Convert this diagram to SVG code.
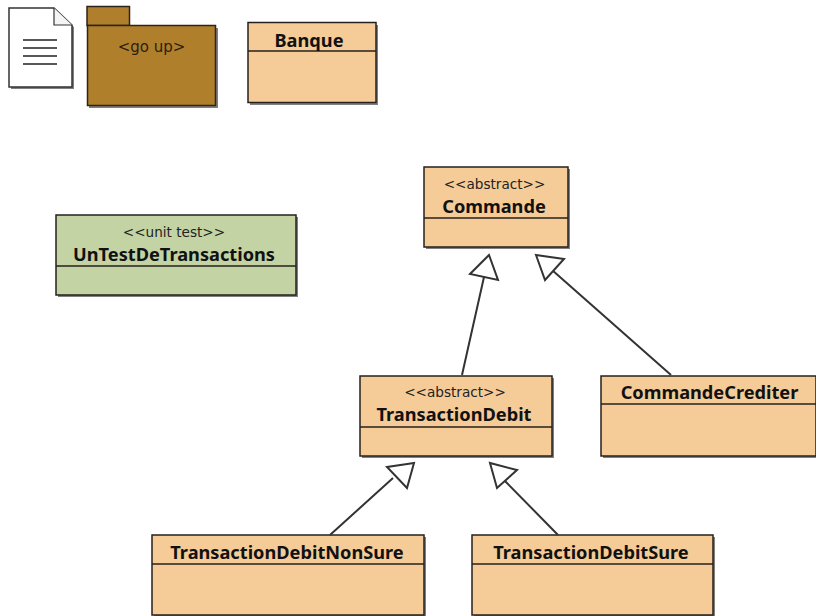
<svg xmlns="http://www.w3.org/2000/svg" width="816" height="616" viewBox="0 0 816 616">
<defs>
<style>
.s{fill:#4a4a4a;opacity:.7;stroke:none}
.c{fill:#f5cb98;stroke:#26201c;stroke-width:1.5}
.d{stroke:#26201c;stroke-width:1.5;fill:none}
.g{fill:#c4d3a3;stroke:#26201c;stroke-width:1.5}
.t{font-family:"Noto Sans","Liberation Sans",sans-serif;font-size:18.2px;font-weight:bold;fill:#111;text-anchor:middle}
.k{font-family:"DejaVu Sans",sans-serif;font-size:13.6px;fill:#222;text-anchor:middle}
.l{stroke:#333;stroke-width:2;fill:none}
.a{fill:#fff;stroke:#333;stroke-width:2;stroke-linejoin:miter}
</style>
</defs>
<rect width="816" height="616" fill="#fff"/>
<g id="note">
<path class="s" d="M11 10H55L74 27V89H11Z"/>
<path d="M9 8H54L72 25V87H9Z" fill="#fff" stroke="#333" stroke-width="1.5"/>
<path d="M54 8V25H72" fill="#f4f4f4" stroke="#333" stroke-width="1.2"/>
<path d="M23 40H57M23 48H57M23 56H57M23 64H57" stroke="#222" stroke-width="1.5"/>
</g>
<g id="go-up">
<path class="s" d="M89 28H218V108H89Z"/>
<path d="M87 6.500H129.500V25.500H87Z" fill="#b07f2b" stroke="#2c241a" stroke-width="1.500"/>
<rect x="87.500" y="25.500" width="128" height="80" fill="#b07f2b" stroke="#2c241a" stroke-width="1.500"/>
<text x="151.500" y="52" text-anchor="middle" font-family="DejaVu Sans, sans-serif" font-size="15" fill="#2a2010">&lt;go up&gt;</text>
</g>
<g id="banque">
<rect class="s" x="250" y="25" width="128" height="80"/>
<rect class="c" x="248" y="22.500" width="128" height="80"/>
<path class="d" d="M248 51H376"/>
<text class="t" x="309" y="47">Banque</text>
</g>
<g id="commande">
<rect class="s" x="426" y="169" width="144" height="80"/>
<rect class="c" x="424" y="167" width="144" height="80"/>
<path class="d" d="M424 218H568"/>
<text class="k" x="494.500" y="189">&lt;&lt;abstract&gt;&gt;</text>
<text class="t" x="494" y="213">Commande</text>
</g>
<g id="untest">
<rect class="s" x="58" y="217" width="240" height="80"/>
<rect class="g" x="56" y="215" width="240" height="80"/>
<path class="d" d="M56 266H296"/>
<text class="k" x="174" y="237">&lt;&lt;unit test&gt;&gt;</text>
<text class="t" x="174" y="261">UnTestDeTransactions</text>
</g>
<g id="transactiondebit">
<rect class="s" x="362" y="378" width="192" height="80"/>
<rect class="c" x="360" y="376" width="192" height="80"/>
<path class="d" d="M360 427H552"/>
<text class="k" x="455" y="397">&lt;&lt;abstract&gt;&gt;</text>
<text class="t" x="454" y="421">TransactionDebit</text>
</g>
<g id="commandecrediter">
<rect class="s" x="603" y="378" width="215" height="80"/>
<rect class="c" x="601" y="376" width="215" height="80"/>
<path class="d" d="M601 404H816"/>
<text class="t" x="709.500" y="399">CommandeCrediter</text>
</g>
<g id="nonsure">
<rect class="s" x="154" y="537" width="272" height="80"/>
<rect class="c" x="152" y="535" width="272" height="80"/>
<path class="d" d="M152 564H424"/>
<text class="t" x="287" y="559">TransactionDebitNonSure</text>
</g>
<g id="sure">
<rect class="s" x="474" y="537" width="241" height="80"/>
<rect class="c" x="472" y="535" width="241" height="80"/>
<path class="d" d="M472 564H713"/>
<text class="t" x="591" y="559">TransactionDebitSure</text>
</g>
<g id="connectors">
<path class="l" d="M462 375L484 277M671 375L552 270M330 535L393 478M558 535L505 481"/>
<path class="a" d="M489 255L470 274L498 280Z"/>
<path class="a" d="M536 255L545 280L564 259Z"/>
<path class="a" d="M414 463L387 467L407 488Z"/>
<path class="a" d="M490 463L497 488L517 470Z"/>
</g>
</svg>
